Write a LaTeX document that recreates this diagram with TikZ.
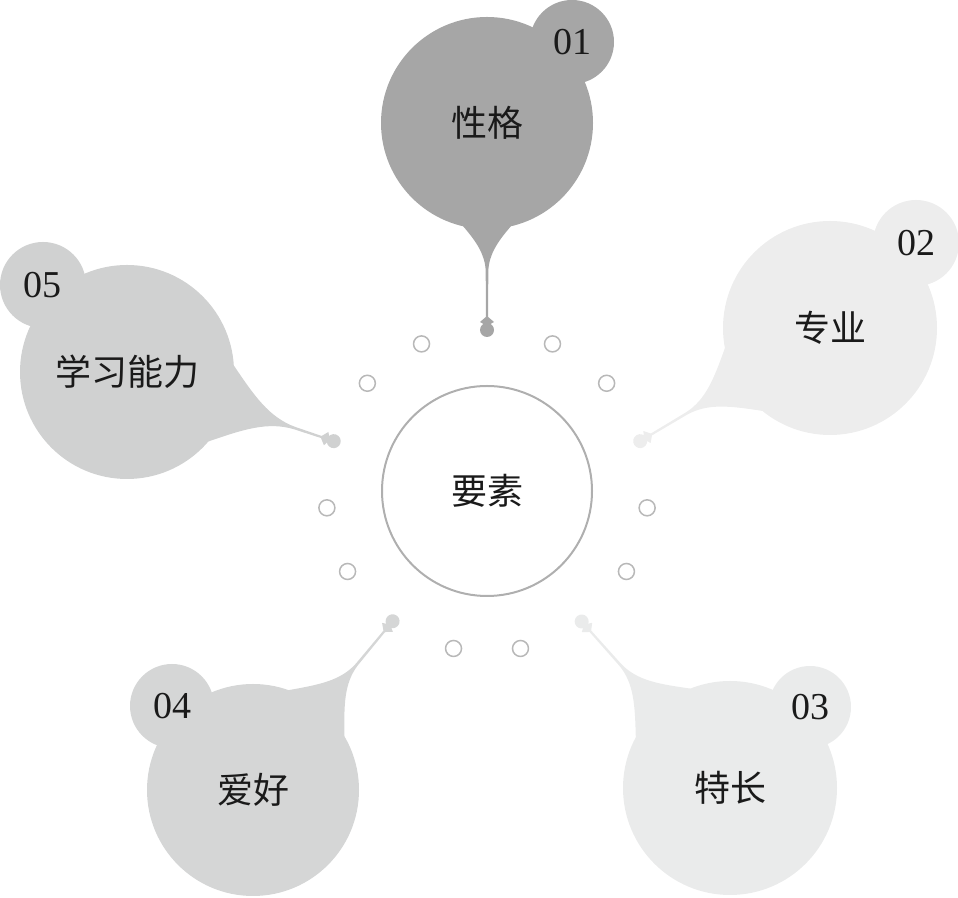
\documentclass[tikz,border=0pt]{standalone}
\usepackage{fontspec}
\usetikzlibrary{calc}
\setmainfont{Liberation Serif}
\newfontfamily\cjk{Noto Sans CJK SC}
\definecolor{cA}{HTML}{A6A6A6}
\definecolor{cB}{HTML}{EDEDED}
\definecolor{cC}{HTML}{EAEBEB}
\definecolor{cD}{HTML}{D5D6D6}
\definecolor{cE}{HTML}{D0D1D1}
\definecolor{ringgray}{HTML}{B8B8B8}
\definecolor{txt}{HTML}{1A1A1A}
% #1,#2 centre, #3 axis angle, #4 radius, #5 tip distance, #6 colour, #7 join angle, #8 neck length
\newcommand{\droptail}[8]{%
  \begin{scope}[shift={(#1,#2)},rotate=#3]
    \fill[#6] ({#4*cos(#7)},{-#4*sin(#7)})
      .. controls ({#4+0.3*#8},{-0.45*#4*sin(#7)}) and ({#4+0.6*#8},-2) .. ({#4+#8},-1.3)
      -- ({#5-13},-1.1) -- ({#5-13},1.1) -- ({#4+#8},1.3)
      .. controls ({#4+0.6*#8},2) and ({#4+0.3*#8},{0.45*#4*sin(#7)}) .. ({#4*cos(#7)},{#4*sin(#7)})
      -- (0,0) -- cycle;
    \fill[#6] ({#5-14},0) -- ({#5-8},-7) -- ({#5-4},0) -- ({#5-8},7) -- cycle;
    \fill[#6] (#5,0) circle (7);
  \end{scope}}
\begin{document}
\begin{tikzpicture}[x=0.5pt,y=0.5pt,
  bubble/.style={circle,inner sep=0pt,text=txt,font=\cjk\fontsize{18}{20}\selectfont},
  numdot/.style={circle,inner sep=0pt,text=txt,minimum size=42pt,font=\fontsize{19}{21}\selectfont},
  ringdot/.style={circle,draw=ringgray,line width=0.75pt,fill=white,minimum size=8pt,inner sep=0pt}]
\path[use as bounding box] (0,0) rectangle (958,898);
% tails
\droptail{487}{775}{-90}{106}{207}{cA}{13}{42}
\droptail{830}{570}{210.8}{107}{221}{cB}{20}{60}
\droptail{730}{110}{131.7}{107}{223}{cC}{20}{58}
\droptail{253}{108}{50.4}{106}{219}{cD}{20}{57}
\droptail{127}{526}{-18.5}{107}{218}{cE}{22}{70}
% big bubbles
\node[bubble,fill=cA,minimum size=106pt] (b1) at (487,775) {性格};
\node[bubble,fill=cB,minimum size=107pt] (b2) at (830,570) {专业};
\node[bubble,fill=cC,minimum size=107pt] (b3) at (730,110) {特长};
\node[bubble,fill=cD,minimum size=106pt] (b4) at (253,108) {爱好};
\node[bubble,fill=cE,minimum size=107pt] (b5) at (127,526) {学习能力};
% number circles
\node[numdot,fill=cA] (n1) at (572,856) {01};
\node[numdot,fill=cB,minimum size=43pt] (n2) at (916,655) {02};
\node[numdot,fill=cC,minimum size=41pt] (n3) at (810,191) {03};
\node[numdot,fill=cD] (n4) at (172,192) {04};
\node[numdot,fill=cE,minimum size=43pt] (n5) at (43,613) {05};
% center
\node[circle,draw=ringgray!95!black,line width=1pt,minimum size=105pt,inner sep=0pt,text=txt,font=\cjk\fontsize{18}{20}\selectfont] (c) at (487,407) {要素};
% ring dots
\foreach \a [count=\i] in {42,66,114,138,186,210,258,282,330,354}
  \node[ringdot] (r\i) at ($(487,407)+(\a:161)$) {};
\end{tikzpicture}
\end{document}
